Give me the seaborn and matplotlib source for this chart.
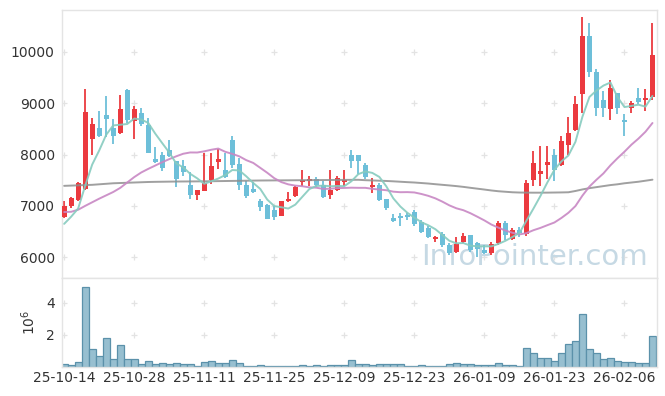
import numpy as np
import pandas as pd
import matplotlib
matplotlib.use("Agg")
import matplotlib.pyplot as plt
import seaborn as sns

# ---------------- data ----------------
tick_labels = ["25-10-14", "25-10-28", "25-11-11", "25-11-25", "25-12-09",
               "25-12-23", "26-01-09", "26-01-23", "26-02-06"]

opens = [6790, 6990, 7120, 7330, 8310, 8520, 8760, 8520, 8420, 9250,
         8650, 8810, 8580, 7920, 7990, 8090, 7880, 7770, 7410, 7220,
         7280, 7510, 7850, 7700, 8280, 7820, 7400, 7330, 7100, 7020,
         6920, 6810, 7100, 7200, 7460, 7490, 7530, 7400, 7220, 7300,
         7460, 8000, 7990, 7790, 7360, 7410, 7140, 6770, 6800, 6830,
         6880, 6680, 6570, 6350, 6450, 6240, 6100, 6300, 6440, 6270,
         6140, 6090, 6270, 6660, 6350, 6530, 6460, 7510, 7630, 7800,
         8000, 7790, 8180, 8470, 9180, 10310, 9610, 9070, 8880, 9190,
         8680, 8900, 9100, 9060, 9120]
highs = [7090, 7180, 7470, 9270, 8720, 8840, 9130, 8690, 9160, 9270,
         8950, 8900, 8720, 8150, 8040, 8290, 7880, 7900, 7650, 7300,
         8020, 8030, 8110, 8030, 8360, 7930, 7490, 7460, 7140, 7040,
         6990, 7100, 7270, 7380, 7690, 7590, 7570, 7480, 7690, 7580,
         7690, 8080, 7990, 7830, 7540, 7440, 7140, 6840, 6860, 6860,
         6920, 6730, 6600, 6420, 6500, 6270, 6400, 6470, 6440, 6290,
         6230, 6290, 6700, 6700, 6560, 6580, 7500, 8060, 8160, 8170,
         8110, 8360, 8730, 9140, 10670, 10570, 9660, 9230, 9460, 9190,
         8780, 9040, 9300, 9270, 10560]
lows = [6760, 6960, 7100, 7310, 8000, 8340, 8340, 8210, 8400, 8620,
        8300, 8560, 8020, 7830, 7670, 7960, 7360, 7590, 7130, 7120,
        7280, 7430, 7710, 7550, 7740, 7310, 7150, 7260, 6910, 6750,
        6730, 6810, 7070, 7180, 7390, 7390, 7360, 7150, 7130, 7280,
        7390, 7740, 7630, 7530, 7260, 7100, 6920, 6680, 6610, 6730,
        6600, 6480, 6380, 6300, 6200, 6040, 6090, 6280, 6110, 6010,
        6060, 6040, 6240, 6340, 6330, 6390, 6420, 7380, 7380, 7530,
        7480, 7770, 8000, 8450, 8800, 9500, 8750, 8730, 8680, 8780,
        8360, 8810, 8990, 8850, 9070]
closes = [6990, 7160, 7450, 8820, 8600, 8360, 8690, 8360, 8890, 8670,
          8890, 8600, 8030, 7850, 7740, 7980, 7530, 7650, 7220, 7300,
          7450, 7770, 7920, 7560, 7790, 7410, 7200, 7270, 6980, 6750,
          6780, 7090, 7140, 7360, 7510, 7530, 7400, 7170, 7300, 7540,
          7510, 7870, 7870, 7560, 7400, 7120, 6950, 6700, 6770, 6790,
          6650, 6500, 6400, 6390, 6230, 6080, 6260, 6420, 6140, 6160,
          6080, 6260, 6660, 6440, 6530, 6470, 7450, 7840, 7670, 7860,
          7690, 8270, 8420, 8990, 10310, 9610, 8900, 8900, 9290, 8900,
          8630, 9010, 9020, 9100, 9940]
volumes_m = [0.16, 0.10, 0.31, 4.96, 1.14, 0.71, 1.82, 0.47, 1.39, 0.47,
             0.47, 0.16, 0.35, 0.16, 0.22, 0.16, 0.22, 0.16, 0.16, 0.04,
             0.29, 0.35, 0.22, 0.22, 0.41, 0.22, 0.04, 0.04, 0.10, 0.04,
             0.04, 0.04, 0.04, 0.04, 0.10, 0.04, 0.10, 0.04, 0.10, 0.10,
             0.10, 0.43, 0.16, 0.16, 0.10, 0.16, 0.16, 0.16, 0.16, 0.04,
             0.04, 0.10, 0.04, 0.04, 0.04, 0.16, 0.22, 0.16, 0.16, 0.10,
             0.10, 0.10, 0.22, 0.10, 0.10, 0.04, 1.20, 0.84, 0.53, 0.59,
             0.35, 0.84, 1.45, 1.63, 3.29, 1.14, 0.84, 0.47, 0.53, 0.35,
             0.29, 0.29, 0.22, 0.22, 1.94]
ma5_head = [6650, 6790, 6950, 7390]
ma20_head = [6880, 6885, 6925, 7000, 7070, 7140, 7205, 7270, 7350, 7455,
             7560, 7650, 7720, 7785, 7850, 7910, 7965, 8015, 8040]
ma120 = [7390, 7395, 7400, 7405, 7410, 7420, 7430, 7440, 7445, 7450, 7455,
         7460, 7465, 7468, 7470, 7472, 7474, 7475, 7476, 7477, 7478,
         7480, 7482, 7484, 7486, 7488, 7490, 7492, 7494, 7495, 7496, 7497,
         7498, 7499, 7500, 7501, 7502, 7503, 7504, 7505, 7506, 7507, 7508,
         7500, 7495, 7490, 7485, 7478, 7470, 7462, 7455, 7445, 7435, 7422,
         7410, 7398, 7385,
         7370, 7352, 7335, 7318, 7300, 7285, 7275,
         7265, 7260, 7258, 7257, 7257, 7258, 7260, 7262, 7265,
         7290, 7320, 7345, 7365, 7385, 7405, 7420, 7440, 7455, 7470, 7490, 7510]
price_ticks = [6000, 7000, 8000, 9000, 10000]
vol_ticks = [2, 4]

# ---------------- styling ----------------
RED = "#eb3a3f"
BLUE = "#6dbfd9"
TXT = "#333333"
SPINE = "#e4e4e4"
CROSS = "#e3e3e3"

sns.set_theme(style="white")
plt.rcParams['font.family'] = ['DejaVu Sans']

n = len(closes)
idx = np.arange(n)
df = pd.DataFrame(dict(i=idx, open=opens, high=highs, low=lows,
                       close=closes, vol=volumes_m))
up = df["close"] >= df["open"]
cols = np.where(up, RED, BLUE)

close_s = pd.Series(closes, dtype=float)
ma5 = close_s.rolling(5).mean()
ma5.iloc[:len(ma5_head)] = ma5_head
ma20 = close_s.rolling(20).mean()
ma20.iloc[:len(ma20_head)] = ma20_head

fig = plt.figure(figsize=(6.65, 3.96), dpi=100)
ax = fig.add_axes([0.0928, 0.2980, 0.8952, 0.6768])
axv = fig.add_axes([0.0928, 0.0732, 0.8952, 0.2247])

xlim = (-0.35, n - 1 + 0.65)
xticks = list(range(0, n, 10))[:len(tick_labels)]

# grid crosses
for a, yt in ((ax, price_ticks), (axv, vol_ticks)):
    gx, gy = np.meshgrid(xticks, yt)
    a.scatter(gx.ravel(), gy.ravel(), marker="+", s=18, color=CROSS,
              linewidths=0.9, zorder=0)

# candles
ax.vlines(df["i"], df["low"], df["high"], colors=cols, lw=1.3, zorder=2)
body = (df["close"] - df["open"]).abs().clip(lower=15)
ax.bar(df["i"], body, bottom=np.minimum(df["open"], df["close"]),
       width=0.75, color=cols, lw=0, zorder=3)

# moving averages
sns.lineplot(x=idx, y=np.array(ma120, dtype=float), ax=ax, color="#8f8f8f",
             lw=1.4, alpha=0.85, zorder=4)
sns.lineplot(x=idx, y=ma20.values, ax=ax, color="#c887c4", lw=1.4,
             alpha=0.9, zorder=4)
sns.lineplot(x=idx, y=ma5.values, ax=ax, color="#86cbbf", lw=1.4,
             alpha=0.9, zorder=4)

ax.set_xlim(*xlim)
ax.set_ylim(5596, 10814)
ax.set_yticks(price_ticks)
ax.set_yticklabels([str(v) for v in price_ticks])
ax.set_xticks([])
ax.set_xlabel("")
ax.set_ylabel("")

ax.text(0.985, 0.08, "InfoPointer.com", transform=ax.transAxes,
        ha="right", va="center", fontsize=21, color="#c6d9e4", zorder=1)

# volume
sns.barplot(x=idx, y=volumes_m, ax=axv, color="#97bfd0", edgecolor="#5b91aa",
            linewidth=0.9, width=1.0, saturation=1, errorbar=None, zorder=2)
axv.set_xlim(*xlim)
axv.set_ylim(0, 5.52)
axv.set_yticks(vol_ticks)
axv.set_yticklabels([str(v) for v in vol_ticks])
axv.set_xticks(xticks)
axv.set_xticklabels(tick_labels)
axv.set_xlabel("")
axv.set_ylabel(r"$10^{6}$", fontsize=10, color=TXT, labelpad=6)

for a in (ax, axv):
    for s in a.spines.values():
        s.set_color(SPINE)
        s.set_linewidth(1)
    a.tick_params(axis="both", length=0, labelsize=10, colors=TXT, pad=5)
    a.grid(False)
    if a.get_legend():
        a.get_legend().remove()
axv.tick_params(axis="x", pad=3)

fig.savefig("out.png", dpi=100)
